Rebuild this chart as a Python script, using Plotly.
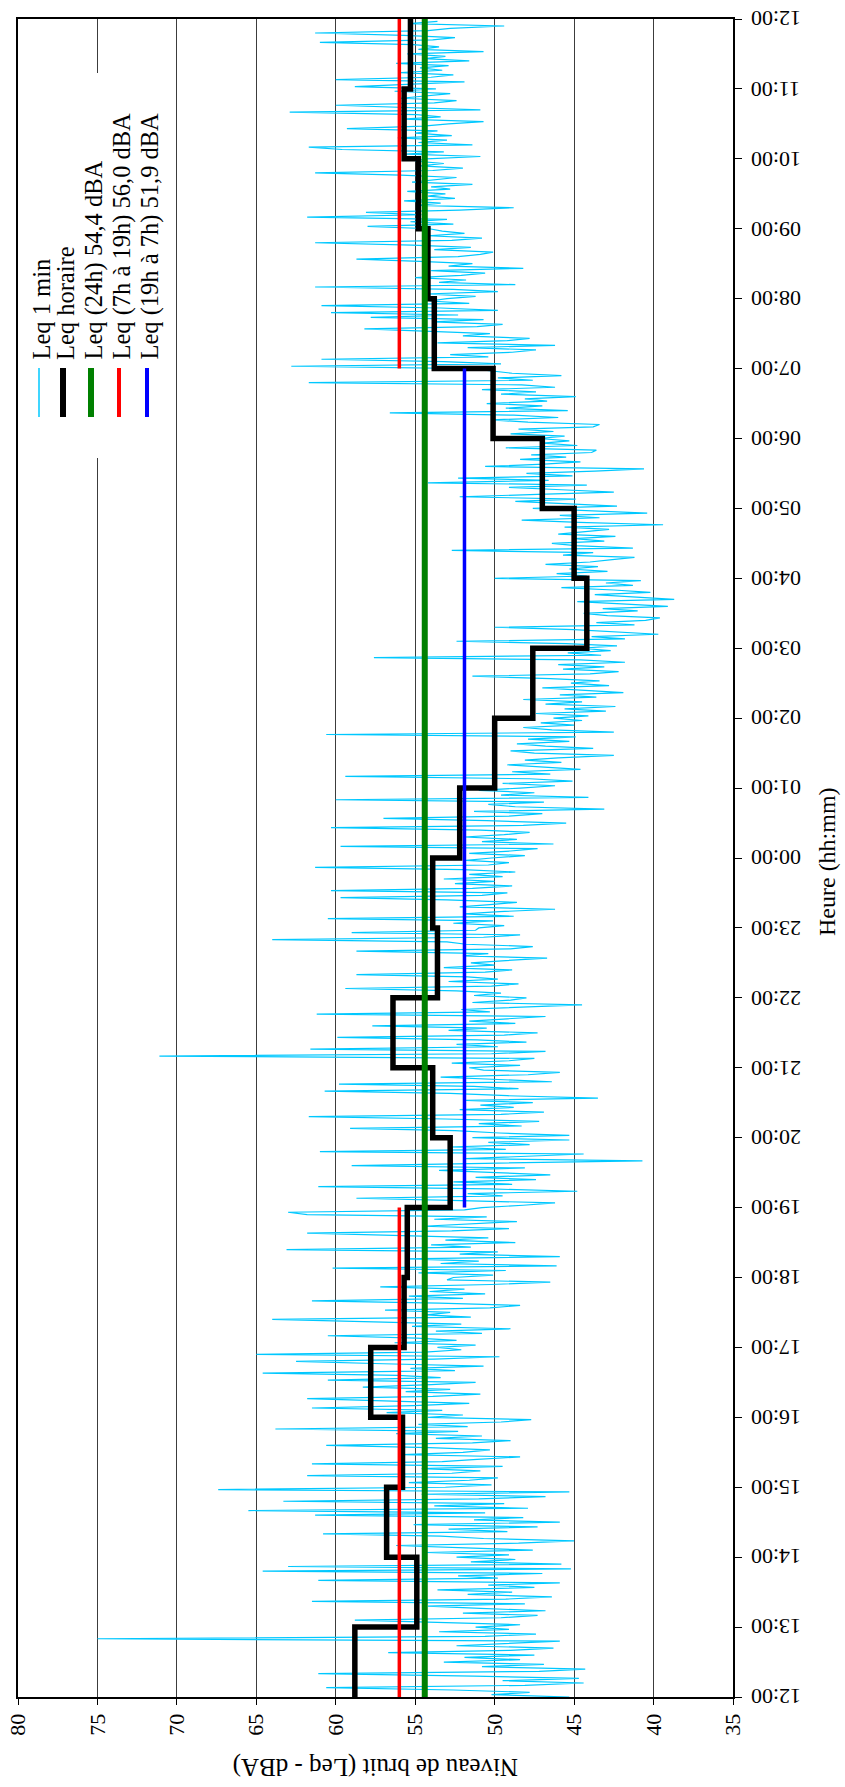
import plotly.graph_objects as go

# ---------------- data ----------------
# time axis: hours elapsed since 12:00 (0 -> 12:00, 24 -> 12:00 next day)
time_labels = ["12:00", "13:00", "14:00", "15:00", "16:00", "17:00", "18:00",
               "19:00", "20:00", "21:00", "22:00", "23:00", "00:00", "01:00",
               "02:00", "03:00", "04:00", "05:00", "06:00", "07:00", "08:00",
               "09:00", "10:00", "11:00", "12:00"]
time_ticks = list(range(25))

level_ticks = [35, 40, 45, 50, 55, 60, 65, 70, 75, 80]

# Leq 1 min (sampled every 2 minutes), one row per hour starting at 12:00
leq_1min = [
    45.3, 50.2, 47.8, 52.6, 60.6, 48.1, 44.4, 49.5, 44.7, 51.3, 61.1, 47.2, 44.3, 50.8, 46.9, 53.2, 48.4, 51.9, 47.5, 56.7, 49.0, 46.3, 52.4, 48.8, 45.9, 75.0, 50.6, 47.4, 53.5, 49.1,  # 12h
    51.2, 48.4, 53.1, 58.8, 49.6, 47.3, 52.0, 46.8, 50.9, 54.2, 48.1, 61.5, 49.3, 46.4, 51.7, 48.9, 53.6, 47.5, 50.4, 45.9, 61.1, 49.8, 52.3, 47.0, 64.6, 45.2, 63.0, 45.8, 51.5, 48.7,  # 13h
    52.4, 49.1, 54.3, 47.6, 51.8, 56.2, 48.5, 45.0, 50.7, 53.4, 60.8, 49.2, 52.9, 47.3, 55.1, 45.9, 51.3, 48.2, 61.3, 50.6, 65.5, 47.9, 53.8, 49.4, 63.3, 51.0, 46.8, 54.6, 45.3, 67.4,  # 14h
    53.1, 50.2, 55.4, 51.6, 49.8, 61.8, 52.7, 50.9, 54.6, 49.5, 61.5, 53.3, 51.1, 48.4, 55.8, 52.0, 50.3, 54.1, 60.6, 51.4, 49.0, 53.7, 50.8, 56.2, 52.3, 63.8, 51.7, 54.8, 49.6, 47.7,  # 15h
    54.2, 52.0, 56.8, 53.3, 61.5, 55.1, 51.6, 57.4, 61.8, 53.9, 50.9, 55.6, 52.8, 58.3, 54.0, 51.2, 60.5, 53.4, 56.1, 64.6, 52.5, 55.3, 50.7, 57.0, 62.5, 53.8, 49.7, 65.0, 54.4, 52.1,  # 16h
    53.6, 51.2, 56.3, 52.4, 54.9, 60.5, 50.8, 53.7, 49.0, 55.2, 52.1, 57.6, 64.0, 51.5, 54.3, 52.8, 56.9, 50.3, 48.4, 53.5, 61.5, 52.0, 55.4, 50.6, 54.1, 51.9, 57.2, 50.2, 46.5, 53.0,  # 17h
    52.6, 50.1, 54.8, 49.3, 60.2, 46.1, 53.4, 51.0, 55.6, 45.9, 52.2, 49.8, 63.1, 51.5, 54.0, 48.7, 53.1, 50.4, 56.0, 61.8, 52.7, 49.1, 54.5, 51.3, 48.6, 53.8, 50.5, 61.8, 63.0, 51.9,  # 18h
    50.8, 48.2, 46.2, 52.1, 58.7, 49.5, 51.7, 44.8, 50.3, 61.1, 48.9, 52.6, 47.4, 51.2, 46.5, 49.9, 53.5, 48.1, 59.0, 50.6, 40.7, 51.8, 47.6, 44.4, 61.0, 49.3, 52.9, 47.8, 50.4, 45.3,  # 19h
    51.4, 45.3, 49.7, 52.5, 59.1, 48.3, 51.0, 47.2, 53.1, 61.7, 49.6, 46.9, 52.2, 48.8, 50.9, 47.6, 51.8, 43.5, 49.2, 52.8, 60.7, 48.5, 51.3, 59.8, 46.4, 50.1, 53.4, 47.9, 45.9, 50.7,  # 20h
    51.6, 48.4, 52.7, 49.1, 47.5, 71.1, 50.2, 46.8, 61.6, 49.8, 52.4, 48.0, 51.1, 59.9, 49.4, 47.3, 52.9, 50.5, 57.7, 48.7, 51.6, 49.2, 46.8, 61.2, 50.3, 52.1, 48.6, 44.5, 51.4, 49.0,  # 21h
    48.0, 51.3, 49.6, 52.4, 59.4, 50.2, 48.5, 52.9, 49.8, 51.7, 58.7, 50.6, 48.9, 53.2, 50.0, 51.5, 49.3, 46.7, 52.0, 50.4, 58.7, 49.0, 47.6, 51.8, 53.0, 64.0, 50.7, 48.4, 59.0, 51.2,  # 22h
    51.0, 49.4, 52.6, 50.1, 60.5, 48.8, 51.9, 49.7, 46.2, 52.2, 50.3, 48.6, 53.0, 59.7, 50.8, 49.2, 60.3, 51.4, 48.9, 52.5, 50.0, 53.2, 49.5, 51.6, 48.7, 52.0, 61.3, 50.4, 49.1, 51.8,  # 23h
    50.2, 48.1, 51.6, 49.0, 47.3, 59.7, 46.3, 50.8, 48.6, 51.9, 49.4, 47.8, 50.9, 60.3, 48.2, 45.5, 50.5, 57.0, 49.1, 47.0, 51.3, 43.1, 48.7, 50.4, 46.9, 60.0, 44.1, 49.6, 47.5, 51.0,  # 00h
    48.4, 46.2, 49.5, 45.1, 47.8, 59.4, 46.5, 48.9, 44.6, 47.3, 49.2, 45.8, 48.1, 46.0, 42.5, 47.5, 49.0, 43.8, 46.8, 48.6, 45.3, 47.9, 44.9, 60.6, 42.5, 46.4, 48.2, 45.0, 47.1, 44.5,  # 01h
    46.3, 44.1, 47.4, 43.0, 45.6, 42.4, 46.8, 44.5, 48.2, 43.6, 45.9, 41.9, 44.8, 47.0, 42.8, 45.2, 43.4, 46.5, 51.4, 44.0, 42.2, 45.7, 43.1, 46.0, 41.8, 44.6, 57.6, 43.3, 45.4, 42.7,  # 02h
    44.6, 42.3, 45.5, 52.4, 41.8, 43.9, 39.7, 42.7, 45.0, 50.0, 41.2, 43.6, 40.5, 39.6, 42.9, 44.4, 41.0, 43.2, 39.1, 42.0, 44.8, 38.7, 41.6, 43.7, 40.2, 42.5, 45.8, 41.3, 43.0, 40.8,  # 03h
    50.0, 44.2, 46.1, 42.9, 45.3, 43.5, 46.8, 44.0, 42.6, 41.2, 45.7, 43.8, 52.7, 41.3, 44.9, 46.4, 43.1, 45.0, 42.4, 46.0, 44.3, 42.8, 45.6, 39.4, 44.7, 48.3, 43.4, 45.9, 40.4, 44.1,  # 04h
    47.6, 42.3, 46.0, 48.7, 44.9, 52.2, 47.3, 42.5, 45.8, 49.1, 44.2, 54.2, 46.6, 52.3, 45.1, 48.0, 43.7, 40.6, 50.6, 46.9, 44.6, 48.4, 45.5, 47.7, 43.9, 43.6, 49.3, 44.8, 47.0, 45.3,  # 05h
    47.2, 45.6, 49.0, 46.3, 48.5, 43.8, 43.4, 47.9, 50.2, 46.0, 48.8, 56.6, 45.4, 49.3, 47.0, 50.5, 46.7, 48.1, 44.9, 49.6, 47.4, 50.8, 46.2, 48.3, 61.7, 47.6, 49.8, 45.8, 48.9, 50.3,  # 06h
    51.5, 62.8, 49.6, 53.2, 60.9, 50.4, 52.8, 48.9, 47.4, 51.7, 46.2, 53.6, 49.2, 47.8, 52.0, 50.3, 54.5, 58.2, 51.1, 49.5, 53.9, 50.7, 57.8, 52.3, 60.3, 49.8, 53.4, 60.9, 51.6, 54.1,  # 07h
    53.0, 51.2, 54.4, 49.8, 52.6, 61.3, 48.7, 53.5, 51.8, 55.0, 52.1, 50.6, 54.0, 48.2, 52.9, 51.4, 54.7, 58.7, 52.3, 50.9, 50.1, 53.8, 51.5, 55.2, 61.3, 52.7, 50.8, 54.2, 51.9, 53.3,  # 08h
    54.1, 58.0, 52.6, 55.3, 53.0, 61.8, 54.6, 58.1, 52.2, 48.8, 54.9, 53.4, 55.7, 52.5, 54.2, 53.1, 55.5, 52.8, 54.0, 51.4, 55.2, 53.6, 52.4, 55.9, 61.3, 53.9, 52.0, 54.7, 53.2, 55.0,  # 09h
    54.3, 50.9, 55.6, 53.2, 59.6, 61.7, 51.4, 54.8, 53.0, 56.1, 52.7, 55.0, 53.6, 59.3, 54.5, 52.9, 50.7, 55.8, 53.4, 54.9, 62.9, 50.9, 55.3, 60.0, 53.8, 52.4, 55.9, 54.1, 52.8, 56.3,  # 10h
    53.7, 58.8, 55.2, 51.9, 60.0, 54.0, 52.6, 55.9, 53.3, 54.7, 52.9, 56.2, 51.6, 54.4, 53.1, 55.5, 50.7, 54.8, 53.5, 55.1, 61.0, 53.9, 52.5, 55.7, 61.3, 54.2, 52.8, 49.4, 55.4, 53.6,  # 11h
]
minutes_per_sample = 2

# Leq horaire (one value per hour starting 12:00)
leq_hourly = [58.8, 54.9, 56.8, 55.8, 57.8, 55.7, 55.5, 52.8, 53.9, 56.4, 53.6, 53.9,
              52.2, 50.0, 47.6, 44.2, 45.0, 47.0, 50.1, 53.8, 54.2, 54.8, 55.7, 55.3]

leq_24h = 54.4
leq_day = 56.0      # 7h -> 19h
leq_night = 51.9    # 19h -> 7h
day_spans = [(0, 7), (19, 24)]     # 12:00-19:00 and 07:00-12:00
night_span = (7, 19)               # 19:00-07:00

legend_labels = ["Leq 1 min", "Leq horaire", "Leq (24h) 54,4 dBA",
                 "Leq (7h à 19h) 56,0 dBA", "Leq (19h à 7h) 51,9 dBA"]

# ---------------- styles ----------------
FONT = "Liberation Serif"
C_MIN, C_HOUR, C_24, C_DAY, C_NIGHT = "#00C8FF", "#000000", "#008000", "#FF0000", "#0000FF"
W_MIN, W_HOUR, W_24, W_DAY, W_NIGHT = 1.2, 5.5, 6, 3.5, 3.5

W, H = 845, 1787
PL, PR, PT, PB = 18, 733, 19, 1697


def px_x(x):
    return (x - PL) / (PR - PL)


def px_y(y):
    return (PB - y) / (PB - PT)


t_1min = [k * minutes_per_sample / 60 for k in range(len(leq_1min))]

fig = go.Figure()
fig.add_trace(go.Scatter(x=leq_1min, y=t_1min, mode="lines",
                         line=dict(color=C_MIN, width=W_MIN), hoverinfo="skip"))
fig.add_trace(go.Scatter(x=leq_hourly + [leq_hourly[-1]], y=list(range(len(leq_hourly) + 1)),
                         mode="lines", line=dict(color=C_HOUR, width=W_HOUR, shape="vh")))
fig.add_trace(go.Scatter(x=[leq_24h, leq_24h], y=[0, 24], mode="lines",
                         line=dict(color=C_24, width=W_24)))
dx, dy = [], []
for a, b in day_spans:
    dx += [leq_day, leq_day, None]
    dy += [a, b, None]
fig.add_trace(go.Scatter(x=dx, y=dy, mode="lines", line=dict(color=C_DAY, width=W_DAY)))
fig.add_trace(go.Scatter(x=[leq_night, leq_night], y=list(night_span), mode="lines",
                         line=dict(color=C_NIGHT, width=W_NIGHT)))

shapes = []
annotations = []

# legend box (white, no border)
shapes.append(dict(type="rect", xref="paper", yref="paper",
                   x0=px_x(19), x1=px_x(168), y0=px_y(458), y1=px_y(73),
                   fillcolor="white", line=dict(width=0), layer="above"))
leg_x = [39, 63, 91, 119, 147]
leg_col = [C_MIN, C_HOUR, C_24, C_DAY, C_NIGHT]
leg_w = [1.5, 6, 6, 4, 4]
for lx, lab, col, lw in zip(leg_x, legend_labels, leg_col, leg_w):
    shapes.append(dict(type="line", xref="paper", yref="paper",
                       x0=px_x(lx), x1=px_x(lx), y0=px_y(417), y1=px_y(368),
                       line=dict(color=col, width=lw), layer="above"))
    annotations.append(dict(text=lab, xref="paper", yref="paper",
                            x=px_x(lx + 2), y=px_y(362), xanchor="center", yanchor="bottom",
                            textangle=-90, showarrow=False,
                            font=dict(family=FONT, size=24.5, color="black")))

# time tick labels, upside down like the original (drawn at the axis tick positions)
for tv, tl in zip(time_ticks, time_labels):
    annotations.append(dict(text=tl, xref="paper", yref="y", x=px_x(749), y=tv,
                            xanchor="left", yanchor="middle", textangle=180,
                            showarrow=False,
                            font=dict(family=FONT, size=22, color="black")))

# axis titles (rotated like the original)
annotations.append(dict(text="Niveau de bruit (Leq - dBA)", xref="paper", yref="paper",
                        x=px_x((PL + PR) / 2), y=px_y(1767), xanchor="center", yanchor="middle",
                        textangle=180, showarrow=False,
                        font=dict(family=FONT, size=25, color="black")))
annotations.append(dict(text="Heure (hh:mm)", xref="paper", yref="paper",
                        x=px_x(827), y=px_y(862), xanchor="center", yanchor="middle",
                        textangle=-90, showarrow=False,
                        font=dict(family=FONT, size=24, color="black")))

fig.update_layout(
    width=W, height=H,
    margin=dict(l=PL, r=W - PR, t=PT, b=H - PB),
    paper_bgcolor="white", plot_bgcolor="white",
    showlegend=False,
    shapes=shapes, annotations=annotations,
    font=dict(family=FONT, size=22, color="black"),
    xaxis=dict(range=[80, 35], tickmode="array", tickvals=level_ticks,
               ticktext=[str(v) for v in level_ticks], tickangle=-90,
               showgrid=True, gridcolor="#3c3c3c", gridwidth=1,
               showline=True, linecolor="black", linewidth=2, mirror=True,
               ticks="outside", ticklen=6, tickcolor="black", tickwidth=1,
               zeroline=False, tickfont=dict(family=FONT, size=22),
               ticklabeloverflow="allow", automargin=False),
    yaxis=dict(range=[0, 24], side="right", tickmode="array", tickvals=time_ticks,
               showticklabels=False,
               showgrid=False, showline=True, linecolor="black", linewidth=1.5, mirror=True,
               ticks="outside", ticklen=7, tickcolor="black", tickwidth=1,
               zeroline=False, automargin=False),
)

fig.write_html("out.html", config={"displayModeBar": False},
               post_script="document.body.style.margin='0';document.body.style.overflow='hidden';")
